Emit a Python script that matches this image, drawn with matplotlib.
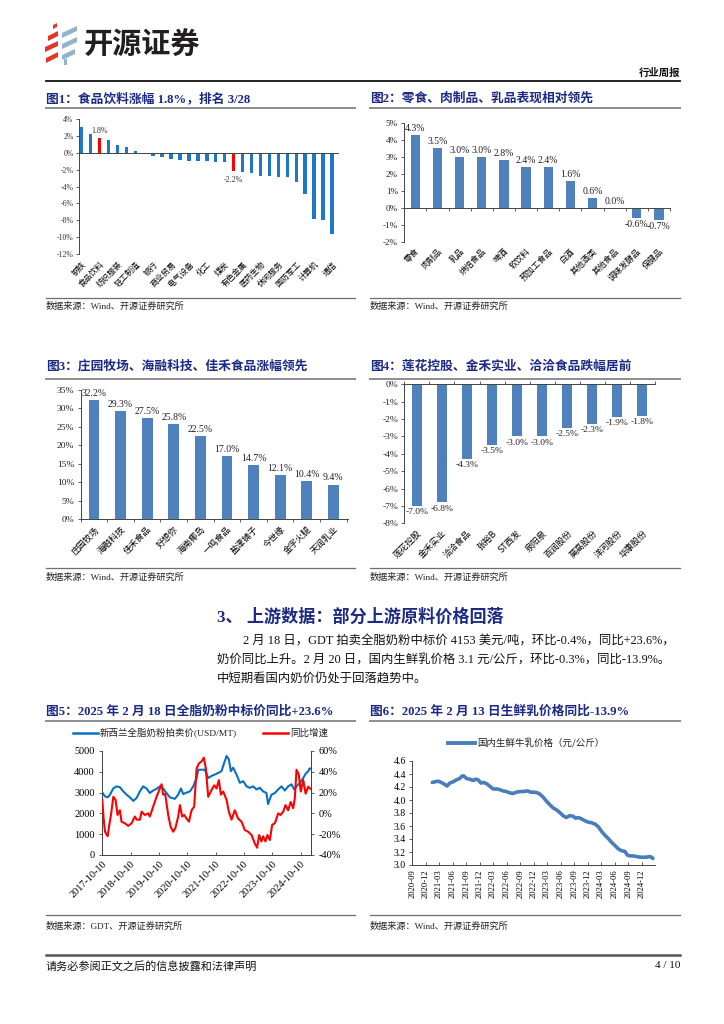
import numpy as np
import pandas as pd
import matplotlib
matplotlib.use('Agg')
import matplotlib.pyplot as plt
import matplotlib.dates as mdates
from matplotlib.lines import Line2D
from matplotlib.patches import Polygon
from matplotlib.ticker import FuncFormatter

# ---------------- data ----------------
fig1_labels = ['钢铁', '', '食品饮料', '', '纺织服装', '', '轻工制造', '', '银行', '',
               '商业贸易', '', '电气设备', '', '化工', '', '煤炭', '', '有色金属', '',
               '医药生物', '', '休闲服务', '', '国防军工', '', '计算机', '', '通信']
fig1_values = [3.1, 2.2, 1.8, 1.6, 0.9, 0.7, 0.2, -0.1, -0.3, -0.5, -0.7, -0.8, -0.9, -1.0,
               -1.0, -1.1, -1.1, -2.2, -2.3, -2.4, -2.7, -2.7, -2.8, -2.9, -3.4, -4.9,
               -7.8, -8.0, -9.6]
fig1_highlight = [2, 17]

fig2_labels = ['零食', '肉制品', '乳品', '烘焙食品', '啤酒', '软饮料', '预加工食品',
               '白酒', '其他酒类', '其他食品', '调味发酵品', '保健品']
fig2_values = [4.3, 3.5, 3.0, 3.0, 2.8, 2.4, 2.4, 1.6, 0.6, 0.0, -0.6, -0.7]

fig3_labels = ['庄园牧场', '海融科技', '佳禾食品', '好想你', '海南椰岛', '一鸣食品',
               '盐津铺子', '今世缘', '金字火腿', '天润乳业']
fig3_values = [32.2, 29.3, 27.5, 25.8, 22.5, 17.0, 14.7, 12.1, 10.4, 9.4]

fig4_labels = ['莲花控股', '金禾实业', '洽洽食品', '张裕B', 'ST西发', '泉阳泉',
               '百润股份', '莫高股份', '洋河股份', '华康股份']
fig4_values = [-7.0, -6.8, -4.3, -3.5, -3.0, -3.0, -2.5, -2.3, -1.9, -1.8]

gdt_dates = ['2017-10-10', '2017-11-14', '2017-12-18', '2018-01-17', '2018-03-01', '2018-04-12',
             '2018-05-25', '2018-07-07', '2018-08-19', '2018-10-01', '2018-11-14', '2018-12-26',
             '2019-02-07', '2019-03-21', '2019-05-03', '2019-06-15', '2019-07-28', '2019-09-10',
             '2019-10-22', '2019-12-04', '2020-01-16', '2020-03-01', '2020-05-03', '2020-06-15',
             '2020-07-20', '2020-08-19', '2020-10-01', '2020-11-14', '2020-12-26', '2021-02-07',
             '2021-03-01', '2021-04-12', '2021-05-25', '2021-07-07', '2021-08-19', '2021-10-01',
             '2021-11-14', '2021-12-26', '2022-01-30', '2022-03-01', '2022-03-30', '2022-04-25',
             '2022-05-25', '2022-07-07', '2022-08-19', '2022-10-01', '2022-11-14', '2022-12-26',
             '2023-02-07', '2023-03-21', '2023-05-03', '2023-06-15', '2023-07-28', '2023-08-18',
             '2023-10-01', '2023-11-14', '2023-12-26', '2024-02-07', '2024-03-21', '2024-05-03',
             '2024-06-15', '2024-07-20', '2024-08-19', '2024-10-01', '2024-11-14', '2024-12-14',
             '2025-01-17', '2025-02-04', '2025-02-18']
gdt_price = [3000, 2820, 2770, 2900, 3200, 3300, 3260, 3060, 2900, 2770, 2600, 2740,
             3060, 3300, 3200, 2980, 3100, 3180, 3300, 3200, 2980, 2770, 2700, 2900,
             3200, 2930, 3000, 3060, 3300, 3700, 4100, 4100, 4100, 3700, 3800, 3870,
             3950, 4030, 4440, 4760, 4600, 4030, 4200, 3870, 3470, 3550, 3300, 3230,
             3300, 3150, 3230, 3060, 2980, 2450, 2900, 2980, 3150, 3300, 3100, 3300,
             3400, 3150, 3300, 3470, 3700, 3900, 4030, 4160, 4153]

yoy_dates = ['2017-10-10', '2017-10-27', '2017-11-14', '2017-12-18', '2018-01-04', '2018-01-30',
             '2018-03-01', '2018-03-30', '2018-04-25', '2018-05-25', '2018-06-15', '2018-07-28',
             '2018-09-10', '2018-10-22', '2018-12-04', '2018-12-26', '2019-02-07', '2019-03-01',
             '2019-04-12', '2019-05-25', '2019-06-15', '2019-07-28', '2019-09-10', '2019-10-22',
             '2019-11-14', '2019-12-04', '2019-12-30', '2020-02-07', '2020-03-10', '2020-04-12',
             '2020-05-10', '2020-06-15', '2020-07-07', '2020-08-05', '2020-09-01', '2020-10-01',
             '2020-11-01', '2020-12-04', '2021-01-07', '2021-02-07', '2021-03-08', '2021-04-12',
             '2021-05-12', '2021-06-07', '2021-07-07', '2021-08-19', '2021-09-22', '2021-10-22',
             '2021-11-22', '2021-12-18', '2022-01-17', '2022-03-01', '2022-03-30', '2022-05-04',
             '2022-06-15', '2022-07-28', '2022-09-10', '2022-10-22', '2022-12-04', '2023-01-17',
             '2023-03-01', '2023-03-30', '2023-04-25', '2023-05-25', '2023-06-15', '2023-07-15',
             '2023-08-10', '2023-09-10', '2023-10-10', '2023-11-14', '2023-12-26', '2024-01-25',
             '2024-03-01', '2024-03-30', '2024-05-03', '2024-06-05', '2024-07-07', '2024-07-28',
             '2024-08-19', '2024-09-18', '2024-10-13', '2024-11-14', '2024-12-14', '2025-01-17',
             '2025-02-04', '2025-02-18']
yoy_pct = [13, -5, -17.6, -22, -13, -1.5, 16, 13, -1.5, 3, -8, -9.5,
           -12, -9.5, -3, -6, -6, 1.7, -1.5, 0, -3, 6.5, 16, 24,
           28, 18, 19, -1.5, -13, -17.6, -14, -3, 8, -3, -1.5, -5,
           -8, 3, 6.5, 43, 48, 50, 53.6, 43, 16, 22.5, 27, 24,
           32, 18, 21, 13, 1.7, -6, 3, -5, -8, -16, -17.6, -20.8,
           -29, -33, -20.8, -27, -22, -27, -20.8, -25.6, -11, -9.5, 0, -1.5,
           1.7, 8, 3, 11, 5, 14.5, 42, 37, 21, 32, 19, 25.7,
           24, 23.6]

milk_dates = ['2021-01-14', '2021-02-02', '2021-02-24', '2021-03-16', '2021-04-08', '2021-04-24',
              '2021-05-12', '2021-06-04', '2021-06-26', '2021-07-18', '2021-08-04', '2021-08-15',
              '2021-09-03', '2021-09-25', '2021-10-18', '2021-11-03', '2021-11-21', '2021-12-09',
              '2021-12-25', '2022-01-17', '2022-02-08', '2022-03-01', '2022-03-23', '2022-04-15',
              '2022-05-08', '2022-05-30', '2022-06-22', '2022-07-14', '2022-08-06', '2022-08-29',
              '2022-09-21', '2022-10-20', '2022-11-12', '2022-12-04', '2022-12-27', '2023-01-12',
              '2023-02-04', '2023-02-26', '2023-03-19', '2023-04-10', '2023-05-03', '2023-05-25',
              '2023-06-17', '2023-07-10', '2023-08-02', '2023-08-24', '2023-09-10', '2023-09-28',
              '2023-10-20', '2023-11-12', '2023-12-04', '2023-12-27', '2024-01-19', '2024-02-10',
              '2024-03-03', '2024-03-25', '2024-04-17', '2024-05-10', '2024-06-02', '2024-06-24',
              '2024-07-16', '2024-08-08', '2024-08-26', '2024-09-12', '2024-10-04', '2024-10-27',
              '2024-11-18', '2024-12-10', '2025-01-03', '2025-01-19', '2025-02-06', '2025-02-13']
milk_price = [4.27, 4.28, 4.29, 4.27, 4.24, 4.215,
              4.26, 4.28, 4.31, 4.33, 4.37, 4.37,
              4.33, 4.32, 4.30, 4.32, 4.31, 4.26,
              4.27, 4.25, 4.21, 4.17, 4.17, 4.16,
              4.14, 4.13, 4.11, 4.10, 4.12, 4.13,
              4.13, 4.14, 4.12, 4.12, 4.11, 4.09,
              4.04, 3.98, 3.93, 3.88, 3.85, 3.81,
              3.76, 3.73, 3.76, 3.75, 3.72, 3.73,
              3.71, 3.68, 3.66, 3.65, 3.63, 3.59,
              3.52, 3.46, 3.41, 3.35, 3.30, 3.25,
              3.22, 3.21, 3.15, 3.14, 3.14, 3.13,
              3.12, 3.12, 3.12, 3.13, 3.12, 3.10]

gdt_ticks = ['2017-10-10', '2018-10-10', '2019-10-10', '2020-10-10', '2021-10-10',
             '2022-10-10', '2023-10-10', '2024-10-10']
milk_ticks = ['2020-09', '2020-12', '2021-03', '2021-06', '2021-09', '2021-12', '2022-03',
              '2022-06', '2022-09', '2022-12', '2023-03', '2023-06', '2023-09', '2023-12',
              '2024-03', '2024-06', '2024-09', '2024-12']

# ---------------- style ----------------
W, H = 724, 1024
FAM = ['Liberation Serif', 'Noto Sans CJK SC']
CJK = ['Noto Sans CJK SC', 'DejaVu Sans']
plt.rcParams['font.family'] = FAM
plt.rcParams['axes.unicode_minus'] = False
NAVY = '#1C2A84'
BAR = '#4F81BD'
BLUE1 = '#1F77C9'
RED = '#FF0000'
AXC = '#444444'
GRAYLINE = '#8C8C8C'

fig = plt.figure(figsize=(W / 100, H / 100), dpi=100)


def add_ax(l, t, r, b):
    return fig.add_axes([l / W, 1 - b / H, (r - l) / W, (b - t) / H])


def ftext(x, y, s, **kw):
    kw.setdefault('va', 'center')
    fig.text(x / W, 1 - y / H, s, **kw)


def fline(x0, x1, y, color, lw):
    fig.add_artist(Line2D([x0 / W, x1 / W], [1 - y / H, 1 - y / H], color=color, lw=lw,
                          transform=fig.transFigure))


def fpoly(pts, color):
    fig.add_artist(Polygon([(x / W, 1 - y / H) for x, y in pts], closed=True,
                           facecolor=color, edgecolor='none', transform=fig.transFigure))


# ---------------- page header ----------------
red_logo = '#E0392B'
blue_logo = '#92B3C9'
fpoly([(53, 25), (57, 23), (57, 27), (53, 29)], red_logo)
fpoly([(48, 36), (58, 31), (58, 36), (48, 41)], red_logo)
fpoly([(45, 47), (58, 41), (58, 46), (45, 52)], red_logo)
fpoly([(46, 58), (58, 52), (58, 57), (46, 63)], red_logo)
fpoly([(62, 33), (77, 26), (77, 31), (62, 38)], blue_logo)
fpoly([(62, 44), (77, 37), (77, 42), (62, 49)], blue_logo)
fpoly([(62, 55), (75, 49), (75, 54), (62, 60)], blue_logo)
fpoly([(64, 59), (67, 59), (67, 65), (64, 65)], blue_logo)
ftext(84, 45, '开源证券', fontsize=21, fontweight='bold', color='#231F20', family=CJK)
ftext(680, 73, '行业周报', fontsize=7.5, fontweight='bold', ha='right', color='#111111')
fline(46, 680, 80.5, '#111111', 1.3)

# footer
fline(46, 680, 955, '#555555', 1.8)
ftext(46, 966, '请务必参阅正文之后的信息披露和法律声明', fontsize=8, color='#111111')
ftext(680, 966, '4 / 10', fontsize=8, ha='right', color='#111111')


def panel_frame(x0, x1, ty, uy, sy, ly, title, source):
    ftext(x0, ty, title, fontsize=9.2, fontweight='bold', color=NAVY)
    fline(x0, x1, uy, GRAYLINE, 1.4)
    fline(x0, x1, ly, '#6E6E6E', 0.9)
    ftext(x0, sy, source, fontsize=6.6, color='#222222')


panel_frame(46, 355, 99, 108, 306.7, 297.7, '图1：食品饮料涨幅 1.8%，排名 3/28', '数据来源：Wind、开源证券研究所')
panel_frame(370, 680, 99, 108, 306.7, 297.7, '图2：零食、肉制品、乳品表现相对领先', '数据来源：Wind、开源证券研究所')
panel_frame(46, 355, 366, 379, 577.7, 567.7, '图3：庄园牧场、海融科技、佳禾食品涨幅领先', '数据来源：Wind、开源证券研究所')
panel_frame(370, 680, 366, 379, 577.7, 567.7, '图4：莲花控股、金禾实业、洽洽食品跌幅居前', '数据来源：Wind、开源证券研究所')
panel_frame(46, 355, 711.7, 720.7, 926, 915, '图5：2025 年 2 月 18 日全脂奶粉中标价同比+23.6%', '数据来源：GDT、开源证券研究所')
panel_frame(370, 680, 711.7, 720.7, 926, 915, '图6：2025 年 2 月 13 日生鲜乳价格同比-13.9%', '数据来源：Wind、开源证券研究所')

# section text
ftext(217, 617, '3、 上游数据：部分上游原料价格回落', fontsize=12.3, fontweight='bold', color=NAVY)
ftext(243, 641, '2 月 18 日，GDT 拍卖全脂奶粉中标价 4153 美元/吨，环比-0.4%，同比+23.6%，',
      fontsize=8.9, color='#111111')
ftext(217, 661, '奶价同比上升。2 月 20 日，国内生鲜乳价格 3.1 元/公斤，环比-0.3%，同比-13.9%。',
      fontsize=8.9, color='#111111')
ftext(217, 680, '中短期看国内奶价仍处于回落趋势中。', fontsize=8.9, color='#111111')

pct = FuncFormatter(lambda v, p: f'{v:.0f}%')


def style_cat_axis(ax, labels, fs, pad):
    sec = ax.secondary_xaxis(0)
    sec.set_xticks(np.arange(len(labels)))
    sec.set_xticklabels(labels, rotation=45, ha='right', rotation_mode='anchor',
                        fontsize=fs, family=CJK)
    sec.tick_params(length=0, pad=pad)
    sec.spines['bottom'].set_visible(False)
    return sec


# ---------------- figure 1 ----------------
ax1 = add_ax(79.3, 119.3, 338, 254)
x1 = np.arange(len(fig1_values))
c1 = [RED if i in fig1_highlight else BLUE1 for i in range(len(fig1_values))]
ax1.bar(x1, fig1_values, width=0.38, color=c1, zorder=2)
ax1.set_xlim(-0.26, 28.67)
ax1.set_ylim(-12, 4)
ax1.set_yticks(np.arange(-12, 5, 2))
ax1.yaxis.set_major_formatter(pct)
ax1.tick_params(axis='y', labelsize=5.6, length=2, width=0.6, color=AXC, pad=2, labelcolor='#333333')
for s in ['top', 'right']:
    ax1.spines[s].set_visible(False)
ax1.spines['left'].set_color(AXC)
ax1.spines['left'].set_linewidth(0.7)
ax1.spines['bottom'].set_position(('data', 0))
ax1.spines['bottom'].set_color(AXC)
ax1.spines['bottom'].set_linewidth(0.7)
ax1.set_xticks([])
style_cat_axis(ax1, fig1_labels, 5.8, 4)
for i in fig1_highlight:
    v = fig1_values[i]
    ax1.annotate(f'{v:.1f}%', (i, v), xytext=(0, 2 if v > 0 else -3), textcoords='offset points',
                 ha='center', va='bottom' if v > 0 else 'top', fontsize=5.8, color='#333333')

# ---------------- figure 2 ----------------
ax2 = add_ax(404.3, 122.7, 670, 242.3)
x2 = np.arange(len(fig2_values))
ax2.bar(x2, fig2_values, width=0.42, color=BAR, zorder=2)
ax2.set_xlim(-0.5, 11.5)
ax2.set_ylim(-2, 5)
ax2.set_yticks(np.arange(-2, 6, 1))
ax2.yaxis.set_major_formatter(pct)
ax2.tick_params(axis='y', labelsize=6.6, length=2.5, width=0.6, color=AXC, pad=2, labelcolor='#222222')
for s in ['top', 'right']:
    ax2.spines[s].set_visible(False)
ax2.spines['left'].set_color(AXC)
ax2.spines['left'].set_linewidth(0.7)
ax2.spines['bottom'].set_position(('data', 0))
ax2.spines['bottom'].set_color(AXC)
ax2.spines['bottom'].set_linewidth(0.7)
ax2.set_xticks([])
ax2.set_xticks(np.arange(-0.5, 12, 1), minor=True)
ax2.tick_params(axis='x', which='minor', length=2.5, width=0.6, color=AXC, labelbottom=False)
style_cat_axis(ax2, fig2_labels, 6.0, 3)
for i, v in enumerate(fig2_values):
    ax2.annotate(f'{v:.1f}%', (i, v), xytext=(0, 1.5 if v >= 0 else -1.5), textcoords='offset points',
                 ha='center', va='bottom' if v >= 0 else 'top', fontsize=7, color='#222222')

# ---------------- figure 3 ----------------
ax3 = add_ax(80.7, 390, 348, 519.3)
x3 = np.arange(len(fig3_values))
ax3.bar(x3, fig3_values, width=0.41, color=BAR, zorder=2)
ax3.set_xlim(-0.5, 9.55)
ax3.set_ylim(0, 35)
ax3.set_yticks(np.arange(0, 36, 5))
ax3.yaxis.set_major_formatter(pct)
ax3.tick_params(axis='y', labelsize=6.8, length=2.5, width=0.6, color=AXC, pad=2, labelcolor='#222222')
for s in ['top', 'right']:
    ax3.spines[s].set_visible(False)
for s in ['left', 'bottom']:
    ax3.spines[s].set_color(AXC)
    ax3.spines[s].set_linewidth(0.7)
ax3.set_xticks(x3)
ax3.set_xticklabels(fig3_labels, rotation=45, ha='right', rotation_mode='anchor', fontsize=6.3, family=CJK)
ax3.tick_params(axis='x', which='major', length=0, pad=4)
ax3.set_xticks(np.arange(-0.5, 10, 1), minor=True)
ax3.tick_params(axis='x', which='minor', length=2.5, width=0.6, color=AXC)
for i, v in enumerate(fig3_values):
    ax3.annotate(f'{v:.1f}%', (i, v), xytext=(0, 1.5), textcoords='offset points',
                 ha='center', va='bottom', fontsize=7, color='#222222')

# ---------------- figure 4 ----------------
ax4 = add_ax(404.3, 384.3, 655, 523.3)
x4 = np.arange(len(fig4_values))
ax4.bar(x4, fig4_values, width=0.4, color=BAR, zorder=2)
ax4.set_xlim(-0.5, 9.5)
ax4.set_ylim(-8, 0)
ax4.set_yticks(np.arange(-8, 1, 1))
ax4.yaxis.set_major_formatter(pct)
ax4.tick_params(axis='y', labelsize=6.8, length=2.5, width=0.6, color=AXC, pad=2, labelcolor='#222222')
for s in ['bottom', 'right']:
    ax4.spines[s].set_visible(False)
for s in ['left', 'top']:
    ax4.spines[s].set_color(AXC)
    ax4.spines[s].set_linewidth(0.7)
ax4.set_xticks(x4)
ax4.set_xticklabels(fig4_labels, rotation=45, ha='right', rotation_mode='anchor', fontsize=6.3, family=CJK)
ax4.tick_params(axis='x', which='major', length=0, pad=4)
ax4.set_xticks(np.arange(-0.5, 10, 1), minor=True)
ax4.tick_params(axis='x', which='minor', top=True, bottom=False, length=2.5, width=0.6, color=AXC)
for i, v in enumerate(fig4_values):
    ax4.annotate(f'{v:.1f}%', (i, v), xytext=(0, -1.5), textcoords='offset points',
                 ha='center', va='top', fontsize=6.8, color='#222222')

# ---------------- figure 5 ----------------
gd = pd.to_datetime(gdt_dates)
yd = pd.to_datetime(yoy_dates)
ax5 = add_ax(102.3, 751, 310.7, 855)
ax5.plot(gd, gdt_price, color='#0A70C0', lw=1.5, zorder=2)
ax5.set_ylim(0, 5000)
ax5.set_yticks(np.arange(0, 5001, 1000))
ax5.set_xlim(pd.Timestamp(gdt_ticks[0]), pd.Timestamp(gdt_dates[-1]))
ax5.set_xticks(pd.to_datetime(gdt_ticks))
ax5.set_xticklabels(gdt_ticks, rotation=45, ha='right', rotation_mode='anchor', fontsize=7.4)
ax5.tick_params(axis='x', direction='in', length=2.5, width=0.6, color=AXC, pad=3)
ax5.tick_params(axis='y', labelsize=7.4, length=2.5, width=0.6, color=AXC, pad=3)
ax5.spines['top'].set_visible(False)
for s in ['left', 'bottom', 'right']:
    ax5.spines[s].set_color(AXC)
    ax5.spines[s].set_linewidth(0.7)
ax5r = ax5.twinx()
ax5r.plot(yd, yoy_pct, color=RED, lw=1.5, zorder=3)
ax5r.set_ylim(-40, 60)
ax5r.set_yticks(np.arange(-40, 61, 20))
ax5r.yaxis.set_major_formatter(pct)
ax5r.tick_params(axis='y', labelsize=7.4, length=2.5, width=0.6, color=AXC, pad=3)
ax5r.spines['top'].set_visible(False)
for s in ['left', 'bottom', 'right']:
    ax5r.spines[s].set_color(AXC)
    ax5r.spines[s].set_linewidth(0.7)
fig.add_artist(Line2D([73 / W, 98 / W], [1 - 733 / H] * 2, color='#0A70C0', lw=1.8, transform=fig.transFigure))
ftext(99.5, 733, '新西兰全脂奶粉拍卖价(USD/MT)', fontsize=6.8, color='#222222')
fig.add_artist(Line2D([263 / W, 288 / W], [1 - 733 / H] * 2, color=RED, lw=1.8, transform=fig.transFigure))
ftext(290, 733, '同比增速', fontsize=6.8, color='#222222')

# ---------------- figure 6 ----------------
md = pd.to_datetime(milk_dates)
ax6 = add_ax(412.3, 761, 655, 865)
ax6.plot(md, milk_price, color='#4A7EBB', lw=2.6, solid_capstyle='round', zorder=2)
ax6.set_ylim(3.0, 4.6)
ax6.set_yticks(np.round(np.arange(3.0, 4.61, 0.2), 1))
ax6.yaxis.set_major_formatter(FuncFormatter(lambda v, p: f'{v:.1f}'))
ax6.set_xlim(pd.Timestamp('2020-09-01'), pd.Timestamp('2025-02-28'))
ax6.set_xticks(pd.to_datetime([t + '-01' for t in milk_ticks]))
ax6.set_xticklabels(milk_ticks, rotation=90, ha='center', va='top', fontsize=6.2)
ax6.tick_params(axis='x', direction='in', length=2.5, width=0.6, color=AXC, pad=3)
ax6.tick_params(axis='y', labelsize=7, length=2.5, width=0.6, color=AXC, pad=2)
for s in ['top', 'right']:
    ax6.spines[s].set_visible(False)
for s in ['left', 'bottom']:
    ax6.spines[s].set_color(AXC)
    ax6.spines[s].set_linewidth(0.7)
fig.add_artist(Line2D([448 / W, 475 / W], [1 - 743 / H] * 2, color='#4A7EBB', lw=2.8, transform=fig.transFigure))
ftext(477, 743, '国内生鲜牛乳价格（元/公斤）', fontsize=6.8, color='#222222', family=CJK)

fig.savefig('out.png', dpi=100)
